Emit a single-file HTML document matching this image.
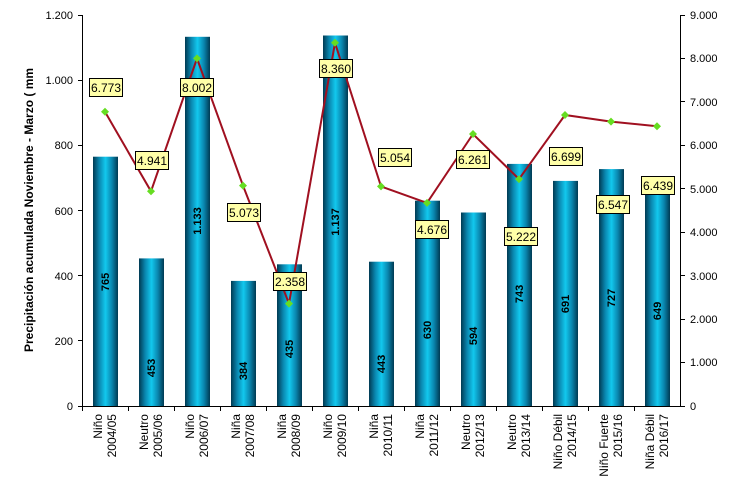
<!DOCTYPE html>
<html><head><meta charset="utf-8"><style>
html,body{margin:0;padding:0;background:#fff;}
svg{display:block;font-family:"Liberation Sans",Arial,sans-serif;}
.t{font-size:11px;fill:#000;}
.v{font-size:11px;font-weight:bold;fill:#000;}
.lb{font-size:12px;fill:#000;}
</style></head><body>
<svg width="733" height="490" viewBox="0 0 733 490" xmlns="http://www.w3.org/2000/svg">
<defs>
<linearGradient id="g" x1="0" x2="1" y1="0" y2="0">
<stop offset="0" stop-color="#003a52"/>
<stop offset="0.25" stop-color="#0a87b0"/>
<stop offset="0.5" stop-color="#12c8ee"/>
<stop offset="0.75" stop-color="#0a87b0"/>
<stop offset="1" stop-color="#003a52"/>
</linearGradient>
</defs>
<g fill="url(#g)">
<rect x="93" y="156.7" width="25" height="249.3"/>
<rect x="139" y="258.4" width="25" height="147.6"/>
<rect x="185" y="36.8" width="25" height="369.2"/>
<rect x="231" y="280.9" width="25" height="125.1"/>
<rect x="277" y="264.3" width="25" height="141.7"/>
<rect x="323" y="35.5" width="25" height="370.5"/>
<rect x="369" y="261.7" width="25" height="144.3"/>
<rect x="415" y="200.7" width="25" height="205.3"/>
<rect x="461" y="212.5" width="25" height="193.5"/>
<rect x="507" y="163.9" width="25" height="242.1"/>
<rect x="553" y="180.9" width="25" height="225.1"/>
<rect x="599" y="169.1" width="25" height="236.9"/>
<rect x="645" y="194.5" width="25" height="211.5"/>
</g>
<g class="v" text-anchor="middle">
<text transform="translate(109,282) rotate(-90)">765</text>
<text transform="translate(155,368) rotate(-90)">453</text>
<text transform="translate(201,221) rotate(-90)">1.133</text>
<text transform="translate(247,371) rotate(-90)">384</text>
<text transform="translate(293,349) rotate(-90)">435</text>
<text transform="translate(339,222) rotate(-90)">1.137</text>
<text transform="translate(385,364) rotate(-90)">443</text>
<text transform="translate(431,330) rotate(-90)">630</text>
<text transform="translate(477,336) rotate(-90)">594</text>
<text transform="translate(523,294) rotate(-90)">743</text>
<text transform="translate(569,304) rotate(-90)">691</text>
<text transform="translate(615,298) rotate(-90)">727</text>
<text transform="translate(661,311) rotate(-90)">649</text>
</g>
<g stroke="#000" stroke-width="1" fill="none">
<line x1="82.5" y1="15" x2="82.5" y2="406"/>
<line x1="680.5" y1="15" x2="680.5" y2="406"/>
<line x1="78" y1="406.5" x2="685" y2="406.5"/>
<path d="M78 15.5h4M78 80.5h4M78 145.5h4M78 210.5h4M78 275.5h4M78 340.5h4"/>
<path d="M680 15.5h5M680 58.5h5M680 101.5h5M680 145.5h5M680 188.5h5M680 232.5h5M680 275.5h5M680 319.5h5M680 362.5h5"/>
<path d="M128.5 406v5M174.5 406v5M220.5 406v5M266.5 406v5M312.5 406v5M358.5 406v5M404.5 406v5M450.5 406v5M496.5 406v5M542.5 406v5M588.5 406v5M634.5 406v5M82.5 406v5"/>
</g>
<g class="t" text-anchor="end">
<text x="73" y="19">1.200</text>
<text x="73" y="84">1.000</text>
<text x="73" y="149">800</text>
<text x="73" y="215">600</text>
<text x="73" y="280">400</text>
<text x="73" y="345">200</text>
<text x="73" y="410">0</text>
</g>
<g class="t" text-anchor="start">
<text x="690" y="19">9.000</text>
<text x="690" y="62">8.000</text>
<text x="690" y="106">7.000</text>
<text x="690" y="149">6.000</text>
<text x="690" y="193">5.000</text>
<text x="690" y="236">4.000</text>
<text x="690" y="280">3.000</text>
<text x="690" y="323">2.000</text>
<text x="690" y="366">1.000</text>
<text x="690" y="410">0</text>
</g>
<text transform="translate(33,210) rotate(-90)" text-anchor="middle" style="font-size:12px;font-weight:bold">Precipitación acumulada Noviembre - Marzo ( mm</text>
<polyline fill="none" stroke="#a01020" stroke-width="2" points="105,111.8 151,191.3 197,58.4 243,185.6 289,303.6 335,42.8 381,186.4 427,202.9 473,134 519,179.1 565,115 611,121.6 657,126.3"/>
<g fill="#66dd22">
<path d="M105 107.8l4 4-4 4-4-4z"/><path d="M151 187.3l4 4-4 4-4-4z"/><path d="M197 54.4l4 4-4 4-4-4z"/><path d="M243 181.6l4 4-4 4-4-4z"/><path d="M289 299.6l4 4-4 4-4-4z"/><path d="M335 38.8l4 4-4 4-4-4z"/><path d="M381 182.4l4 4-4 4-4-4z"/><path d="M427 198.9l4 4-4 4-4-4z"/><path d="M473 130l4 4-4 4-4-4z"/><path d="M519 175.1l4 4-4 4-4-4z"/><path d="M565 111l4 4-4 4-4-4z"/><path d="M611 117.6l4 4-4 4-4-4z"/><path d="M657 122.3l4 4-4 4-4-4z"/>
</g>
<g fill="#ffffa8" stroke="#000" stroke-width="1">
<rect x="89.5" y="78.5" width="33" height="18"/>
<rect x="135.5" y="151.5" width="33" height="18"/>
<rect x="180.5" y="78.5" width="33" height="18"/>
<rect x="227.5" y="203.5" width="33" height="18"/>
<rect x="273.5" y="272.5" width="33" height="18"/>
<rect x="319.5" y="59.5" width="33" height="18"/>
<rect x="378.5" y="148.5" width="33" height="18"/>
<rect x="415.5" y="220.5" width="33" height="18"/>
<rect x="456.5" y="150.5" width="33" height="18"/>
<rect x="504.5" y="227.5" width="33" height="18"/>
<rect x="549.5" y="147.5" width="33" height="18"/>
<rect x="596.5" y="195.5" width="33" height="18"/>
<rect x="641.5" y="176.5" width="33" height="18"/>
</g>
<g class="lb" text-anchor="middle">
<text x="106" y="92">6.773</text>
<text x="152" y="165">4.941</text>
<text x="197" y="92">8.002</text>
<text x="244" y="217">5.073</text>
<text x="290" y="286">2.358</text>
<text x="336" y="73">8.360</text>
<text x="395" y="162">5.054</text>
<text x="432" y="234">4.676</text>
<text x="473" y="164">6.261</text>
<text x="521" y="241">5.222</text>
<text x="566" y="161">6.699</text>
<text x="613" y="209">6.547</text>
<text x="658" y="190">6.439</text>
</g>
<g class="lb" text-anchor="end">
<g transform="translate(105,414) rotate(-90)"><text x="0" y="-3">Niño</text><text x="0" y="11">2004/05</text></g>
<g transform="translate(151,414) rotate(-90)"><text x="0" y="-3">Neutro</text><text x="0" y="11">2005/06</text></g>
<g transform="translate(197,414) rotate(-90)"><text x="0" y="-3">Niño</text><text x="0" y="11">2006/07</text></g>
<g transform="translate(243,414) rotate(-90)"><text x="0" y="-3">Niña</text><text x="0" y="11">2007/08</text></g>
<g transform="translate(289,414) rotate(-90)"><text x="0" y="-3">Niña</text><text x="0" y="11">2008/09</text></g>
<g transform="translate(335,414) rotate(-90)"><text x="0" y="-3">Niño</text><text x="0" y="11">2009/10</text></g>
<g transform="translate(381,414) rotate(-90)"><text x="0" y="-3">Niña</text><text x="0" y="11">2010/11</text></g>
<g transform="translate(427,414) rotate(-90)"><text x="0" y="-3">Niña</text><text x="0" y="11">2011/12</text></g>
<g transform="translate(473,414) rotate(-90)"><text x="0" y="-3">Neutro</text><text x="0" y="11">2012/13</text></g>
<g transform="translate(519,414) rotate(-90)"><text x="0" y="-3">Neutro</text><text x="0" y="11">2013/14</text></g>
<g transform="translate(565,414) rotate(-90)"><text x="0" y="-3">Niño Débil</text><text x="0" y="11">2014/15</text></g>
<g transform="translate(611,414) rotate(-90)"><text x="0" y="-3">Niño Fuerte</text><text x="0" y="11">2015/16</text></g>
<g transform="translate(657,414) rotate(-90)"><text x="0" y="-3">Niña Débil</text><text x="0" y="11">2016/17</text></g>
</g>
</svg>
</body></html>
